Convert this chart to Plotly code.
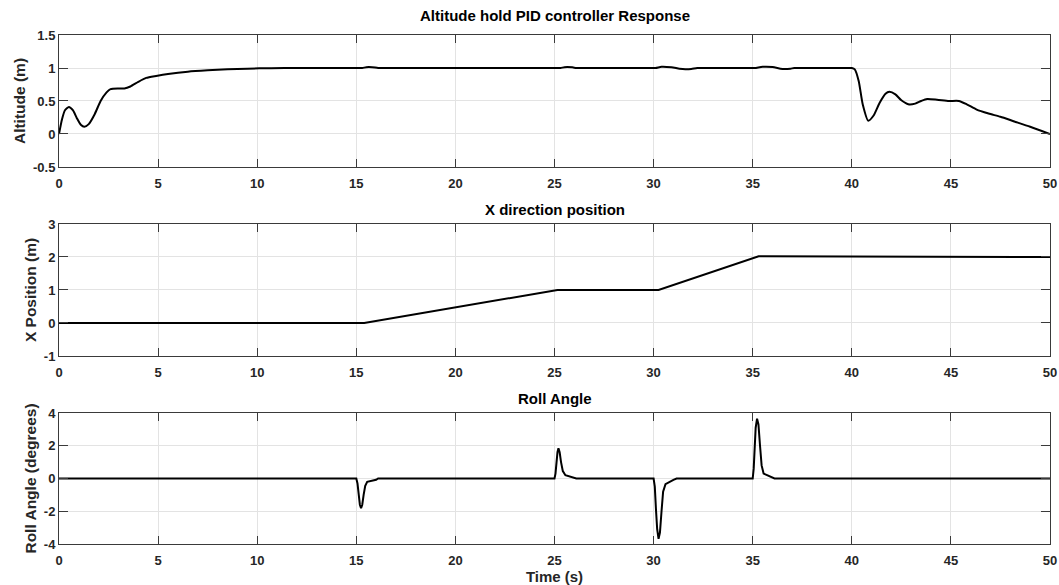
import plotly.graph_objects as go
from plotly.subplots import make_subplots

# Altitude hold response (time in s, altitude in m)
alt_t = [0, 0.15, 0.3, 0.5, 0.7, 0.9, 1.1, 1.28, 1.5, 1.8, 2.1, 2.4, 2.6, 3.0, 3.3,
         3.6, 4.0, 4.4, 4.9, 5.5, 6.5, 7.5, 8.5, 9.5, 10.7, 12.0, 15.0, 15.3, 15.5,
         15.8, 16.1, 16.4, 20.0, 25.0, 25.3, 25.5, 25.9, 26.1, 26.4, 29.8, 30.1,
         30.4, 30.9, 31.3, 31.6, 31.9, 32.2, 32.5, 34.8, 35.1, 35.5, 36.0, 36.4,
         36.6, 36.9, 37.1, 37.4, 39.8, 40.0, 40.15, 40.35, 40.55, 40.83, 41.1,
         41.4, 41.7, 41.9, 42.2, 42.5, 42.85, 43.2, 43.5, 43.8, 44.3, 44.9, 45.4,
         45.8, 46.3, 46.9, 47.5, 48.2, 49.0, 50.0]
alt_z = [0.0, 0.22, 0.36, 0.41, 0.36, 0.24, 0.14, 0.11, 0.15, 0.3, 0.5, 0.63, 0.68,
         0.69, 0.69, 0.72, 0.79, 0.85, 0.88, 0.91, 0.945, 0.965, 0.98, 0.99, 0.998,
         1.0, 1.0, 1.0, 1.012, 1.012, 1.0, 1.0, 1.0, 1.0, 1.0, 1.012, 1.01, 1.0,
         1.0, 1.0, 1.0, 1.018, 1.01, 0.99, 0.982, 0.986, 1.0, 1.0, 1.0, 1.0, 1.018,
         1.014, 0.99, 0.985, 0.99, 1.0, 1.0, 1.0, 1.0, 0.98, 0.8, 0.45, 0.2, 0.28,
         0.47, 0.61, 0.64, 0.6, 0.51, 0.45, 0.46, 0.5, 0.53, 0.52, 0.5, 0.5, 0.45,
         0.37, 0.31, 0.26, 0.19, 0.11, 0.0]

# X direction position (m)
pos_t = [0, 15.4, 25.15, 30.25, 35.3, 37.2, 37.3, 50]
pos_x = [0, 0, 1.0, 1.0, 2.02, 2.02, 2.0, 2.0]

# Roll angle (degrees)
roll_t = [0, 15.0, 15.06, 15.12, 15.18, 15.24, 15.3, 15.37, 15.45, 15.55, 15.8, 16.0, 16.1,
          25.0, 25.05, 25.1, 25.15, 25.2, 25.26, 25.33, 25.42, 25.55, 25.8, 26.0, 26.1,
          30.0, 30.06, 30.12, 30.18, 30.25, 30.32, 30.4, 30.48, 30.6, 30.8, 31.0, 31.16,
          35.0, 35.05, 35.1, 35.15, 35.22, 35.29, 35.37, 35.45, 35.55, 35.8, 36.0, 36.1, 50]
roll_deg = [0, 0, -0.3, -1.0, -1.6, -1.82, -1.6, -1.0, -0.45, -0.2, -0.12, -0.08, 0,
            0, 0.3, 1.0, 1.6, 1.85, 1.6, 1.0, 0.45, 0.2, 0.1, 0.05, 0,
            0, -0.5, -1.9, -3.1, -3.68, -3.3, -2.0, -0.8, -0.35, -0.2, -0.08, 0,
            0, 0.6, 2.0, 3.1, 3.65, 3.3, 2.0, 0.8, 0.3, 0.18, 0.08, 0, 0]

titles = ["Altitude hold PID controller Response", "X direction position", "Roll Angle"]
y_labels = ["Altitude (m)", "X Position (m)", "Roll Angle (degrees)"]
y_ranges = [[-0.5, 1.5], [-1, 3], [-4, 4]]
y_ticks = [[-0.5, 0, 0.5, 1, 1.5], [-1, 0, 1, 2, 3], [-4, -2, 0, 2, 4]]
y_ticktext = [["-0.5", "0", "0.5", "1", "1.5"], ["-1", "0", "1", "2", "3"],
              ["-4", "-2", "0", "2", "4"]]
x_ticks = list(range(0, 51, 5))

FONT = "Liberation Sans, Arial, sans-serif"
AX = "#3a3a3a"
GRID = "#e3e3e3"

fig = make_subplots(rows=3, cols=1, vertical_spacing=0.0)

series = [(alt_t, alt_z, "spline"), (pos_t, pos_x, "linear"), (roll_t, roll_deg, "linear")]
for i, (tx, ty, shape) in enumerate(series, start=1):
    line = dict(color="black", width=2, shape=shape)
    if shape == "spline":
        line["smoothing"] = 0.6
    fig.add_trace(go.Scatter(x=tx, y=ty, mode="lines", line=line,
                             showlegend=False, hoverinfo="skip"), row=i, col=1)

domains = [[0.7407, 1.0], [0.3694, 0.6287], [0.0, 0.2574]]
for i in range(3):
    xa = "xaxis" if i == 0 else f"xaxis{i + 1}"
    ya = "yaxis" if i == 0 else f"yaxis{i + 1}"
    fig.layout[xa].update(
        range=[0, 50], tickvals=x_ticks, ticktext=[str(v) for v in x_ticks],
        automargin=False,
        showgrid=True, gridcolor=GRID, gridwidth=1, zeroline=False,
        showline=True, linecolor=AX, linewidth=1, mirror="ticks",
        ticks="inside", ticklen=8, tickcolor=AX, tickwidth=1, ticklabelstandoff=4,
        tickfont=dict(family=FONT, size=13, color="#262626", weight="bold"),
    )
    fig.layout[ya].update(
        domain=domains[i], range=y_ranges[i], tickvals=y_ticks[i], ticktext=y_ticktext[i],
        automargin=False,
        showgrid=True, gridcolor=GRID, gridwidth=1, zeroline=False,
        showline=True, linecolor=AX, linewidth=1, mirror="ticks",
        ticks="inside", ticklen=9, tickcolor=AX, tickwidth=1,
        tickfont=dict(family=FONT, size=13, color="#262626", weight="bold"),
        title=dict(text=y_labels[i], standoff=3,
                   font=dict(family=FONT, size=15.5, color="#262626", weight="bold")),
    )

fig.layout.xaxis3.title = dict(text="Time (s)", standoff=6,
                               font=dict(family=FONT, size=15, color="#262626", weight="bold"))

# Panel titles above each axes box
title_y = [1.0, 0.6287, 0.2574]
title_shift = [9, 4, 4]
for txt, yy, ys in zip(titles, title_y, title_shift):
    fig.add_annotation(text=txt, x=0.5, xref="paper", y=yy, yref="paper",
                       yanchor="bottom", yshift=ys, showarrow=False,
                       font=dict(family=FONT, size=15, color="black", weight="bold"))

fig.update_layout(
    width=1059, height=585,
    margin=dict(l=59, r=9, t=35, b=41, autoexpand=False),
    paper_bgcolor="white", plot_bgcolor="white",
)

fig.write_html("out.html")
